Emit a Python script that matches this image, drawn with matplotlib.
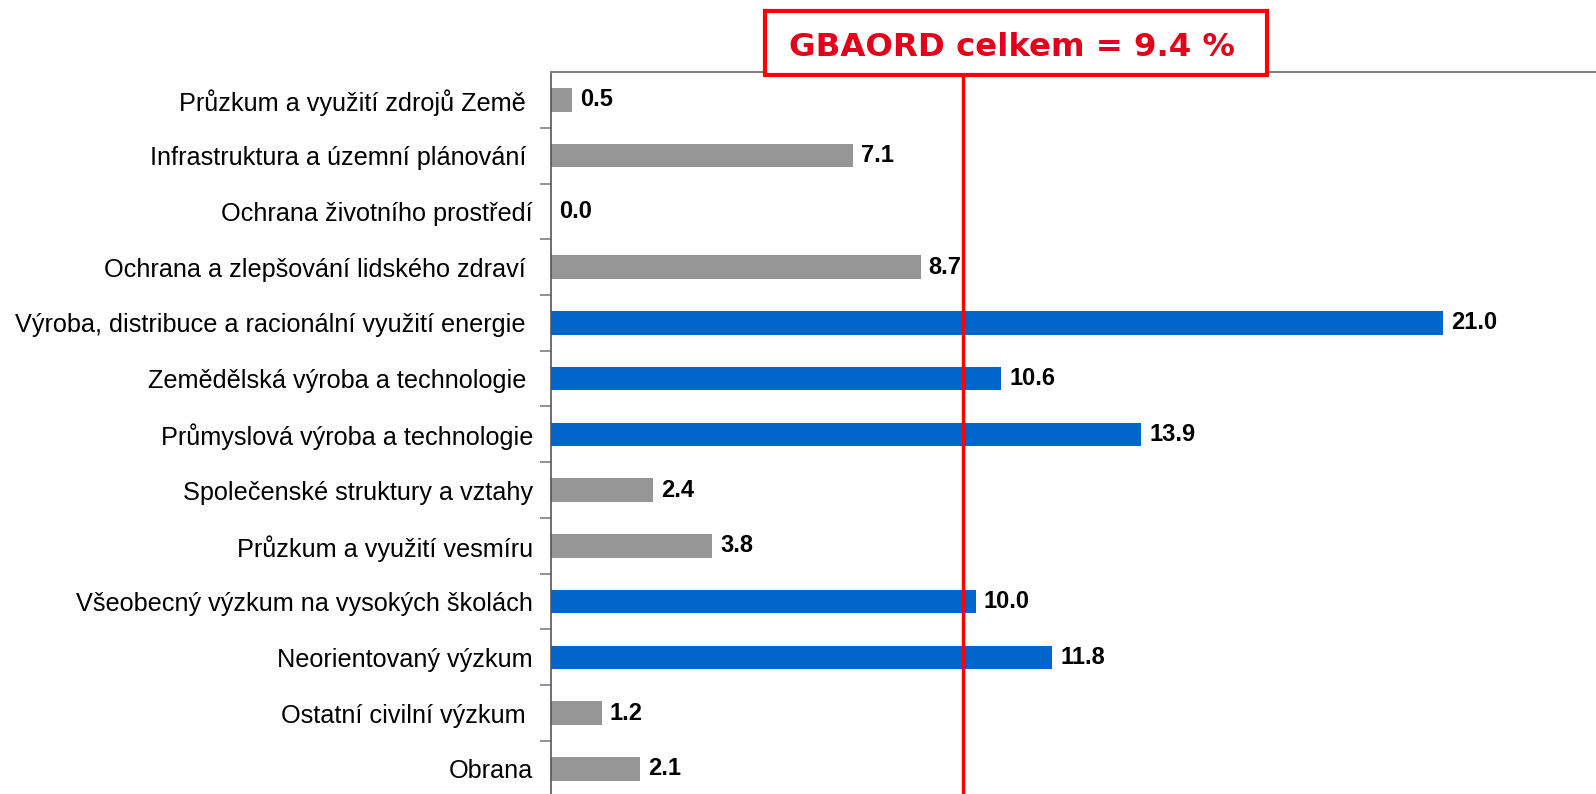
import matplotlib
matplotlib.use("Agg")
import matplotlib.pyplot as plt
from matplotlib.patches import Rectangle

# Podil na GBAORD podle socioekonomickych cilu (%)
kategorie = [
    "Průzkum a využití zdrojů Země ",
    "Infrastruktura a územní plánování ",
    "Ochrana životního prostředí",
    "Ochrana a zlepšování lidského zdraví ",
    "Výroba, distribuce a racionální využití energie ",
    "Zemědělská výroba a technologie ",
    "Průmyslová výroba a technologie",
    "Společenské struktury a vztahy",
    "Průzkum a využití vesmíru",
    "Všeobecný výzkum na vysokých školách",
    "Neorientovaný výzkum",
    "Ostatní civilní výzkum ",
    "Obrana",
]
hodnoty = [0.5, 7.1, 0.0, 8.7, 21.0, 10.6, 13.9, 2.4, 3.8, 10.0, 11.8, 1.2, 2.1]
nad_prumerem = [False, False, False, False, True, True, True, False, False, True, True, False, False]
celkem = 9.4
poloha_cary = 9.7  # cara je v originale nakreslena mirne vpravo od 9.4

plt.rcParams["font.family"] = ["Liberation Sans", "DejaVu Sans"]

fig = plt.figure(figsize=(15.96, 7.94), dpi=100)
ax = fig.add_axes([0.3452, -0.0034, 0.6548, 0.9127])

y = list(range(len(kategorie)))
barvy = ["#0066CC" if b else "#969696" for b in nad_prumerem]
ax.barh(y, hodnoty, height=0.42, color=barvy)

for yi, v in zip(y, hodnoty):
    ax.text(v + 0.19, yi, f"{v:.1f}", va="center", ha="left",
            fontsize=17, fontweight="bold", color="black")

ax.set_xlim(0, 24.6)
ax.set_ylim(len(kategorie) - 0.5, -0.5)
ax.set_yticks(y)
ax.set_yticklabels(kategorie, fontsize=18.2)
ax.set_yticks([i + 0.5 for i in range(len(kategorie))], minor=True)
ax.tick_params(axis="y", which="major", length=0, pad=13)
ax.tick_params(axis="y", which="minor", length=8, width=1.2, color="#808080")
ax.set_xticks([])

for s in ["right", "bottom"]:
    ax.spines[s].set_visible(False)
ax.spines["left"].set_color("#555555")
ax.spines["left"].set_linewidth(1.2)
ax.spines["top"].set_color("#808080")
ax.spines["top"].set_linewidth(1.5)

# cervena cara celkoveho GBAORD
ax.axvline(poloha_cary, color="#FF0000", linewidth=2.5, zorder=5)

# ramecek s popisem
W, H = 1596, 794
fig.patches.append(Rectangle((765 / W, 1 - 75 / H), (1267 - 765) / W, (75 - 11) / H,
                             transform=fig.transFigure, facecolor="white",
                             edgecolor="#FF0000", linewidth=3, zorder=10))
fig.text(1012 / W, 1 - 44.5 / H, f"GBAORD celkem = {celkem} %", family="DejaVu Sans",
         fontsize=23.3, fontweight="bold", color="#E2001A", ha="center",
         va="center_baseline", zorder=11)

fig.savefig("out.png", dpi=100)
